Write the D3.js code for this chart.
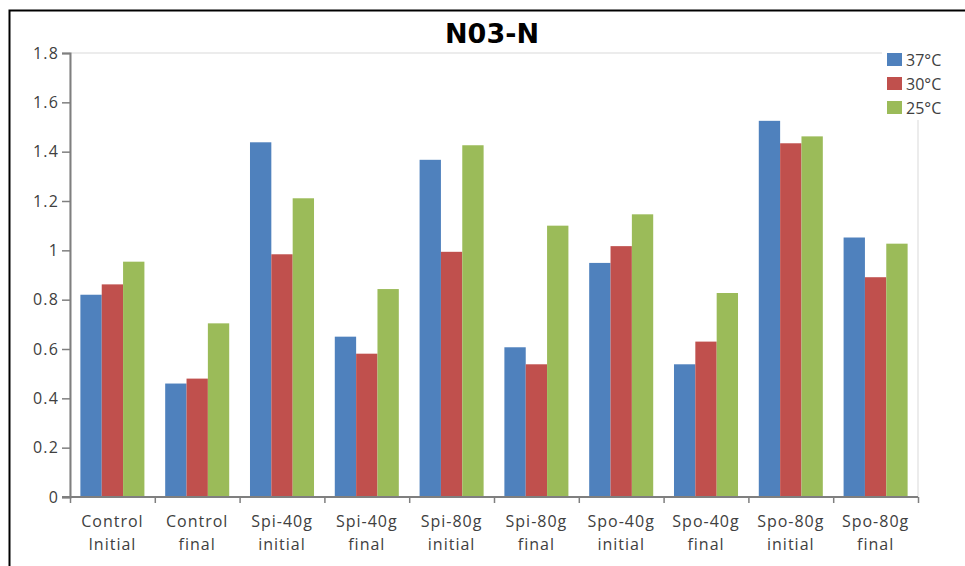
<!DOCTYPE html>
<html><head><meta charset="utf-8">
<script src="https://cdn.jsdelivr.net/npm/d3@7"></script>
<style>body{margin:0;background:#fff}svg{display:block}</style>
</head><body>
<script>
const categories = [["Control","Initial"],["Control","final"],["Spi-40g","initial"],["Spi-40g","final"],["Spi-80g","initial"],["Spi-80g","final"],["Spo-40g","initial"],["Spo-40g","final"],["Spo-80g","initial"],["Spo-80g","final"]];
const seriesNames = ["37°C","30°C","25°C"];
const colors = ["#4F81BD","#C0504D","#9BBB59"];
const s37 = [0.82,0.46,1.438,0.65,1.367,0.607,0.949,0.538,1.525,1.052];
const s30 = [0.862,0.48,0.984,0.581,0.994,0.538,1.017,0.63,1.434,0.891];
const s25 = [0.954,0.704,1.211,0.843,1.426,1.10,1.146,0.827,1.462,1.027];
const yTicks = [0,0.2,0.4,0.6,0.8,1,1.2,1.4,1.6,1.8];
const title = "N03-N";

(function(){
const series = [s37,s30,s25];
const W=965,H=566;
const svg=d3.select("body").append("svg").attr("width",W).attr("height",H);
svg.append("rect").attr("width",W).attr("height",H).attr("fill","#fff");
svg.append("rect").attr("x",9.5).attr("y",10.5).attr("width",1000).attr("height",1000).attr("fill","none").attr("stroke","#000").attr("stroke-width",2);

const pL=70,pR=918,pT=53,pB=497;
const x0=d3.scaleBand().domain(d3.range(categories.length)).range([pL,pR]).paddingInner(0.245).paddingOuter(0.1225);
const x1=d3.scaleBand().domain(d3.range(3)).range([0,x0.bandwidth()]);
const y=d3.scaleLinear().domain([0,1.8]).range([pB,pT]);

svg.append("rect").attr("x",pL).attr("y",pT).attr("width",pR-pL).attr("height",pB-pT).attr("fill","none").attr("stroke","#d9d9d9").attr("stroke-width",1);

const g=svg.append("g");
categories.forEach((c,i)=>{
  series.forEach((s,j)=>{
    g.append("rect").attr("x",x0(i)+x1(j)).attr("width",x1.bandwidth())
     .attr("y",y(s[i])).attr("height",y(0)-y(s[i])).attr("fill",colors[j]);
  });
});

const ya=svg.append("g").attr("transform",`translate(${pL},0)`)
  .call(d3.axisLeft(y).tickValues(yTicks).tickFormat(d=>String(+d.toFixed(1))).tickSize(8).tickPadding(3));
ya.select(".domain").attr("stroke","#7f7f7f").attr("stroke-width",2);
ya.selectAll(".tick line").attr("stroke","#7f7f7f").attr("stroke-width",1.5);
ya.selectAll("text").attr("font-family","Open Sans").attr("font-size",16).attr("letter-spacing",1.2).attr("fill","#404040");

const xt=d3.scaleLinear().domain([0,categories.length]).range([pL,pR]);
const xa=svg.append("g").attr("transform",`translate(0,${pB})`)
  .call(d3.axisBottom(xt).tickValues(d3.range(categories.length+1)).tickFormat("").tickSize(6));
xa.select(".domain").attr("stroke","#7f7f7f").attr("stroke-width",2).attr("d",`M${pL-8},0H${pR}`);
xa.selectAll(".tick line").attr("stroke","#7f7f7f").attr("stroke-width",1.5);

categories.forEach((c,i)=>{
  const cx=x0(i)+x0.bandwidth()/2;
  c.forEach((t,k)=>{
    svg.append("text").attr("x",cx).attr("y",527+k*23).attr("text-anchor","middle")
      .attr("font-family","Open Sans").attr("font-size",16).attr("letter-spacing",1).attr("fill","#404040").text(t);
  });
});

svg.append("text").attr("x",492).attr("y",43).attr("text-anchor","middle")
  .attr("font-family","DejaVu Sans").attr("font-weight","bold").attr("font-size",27).attr("fill","#000").text(title);

const lg=svg.append("g");
lg.append("rect").attr("x",882).attr("y",45).attr("width",83).attr("height",75).attr("fill","#fff");
seriesNames.forEach((n,j)=>{
  lg.append("rect").attr("x",887).attr("y",53+j*24).attr("width",15).attr("height",13).attr("fill",colors[j]);
  lg.append("text").attr("x",906).attr("y",66+j*24).attr("font-family","Open Sans").attr("font-size",16).attr("fill","#404040").text(n);
});
})();
</script>
</body></html>
